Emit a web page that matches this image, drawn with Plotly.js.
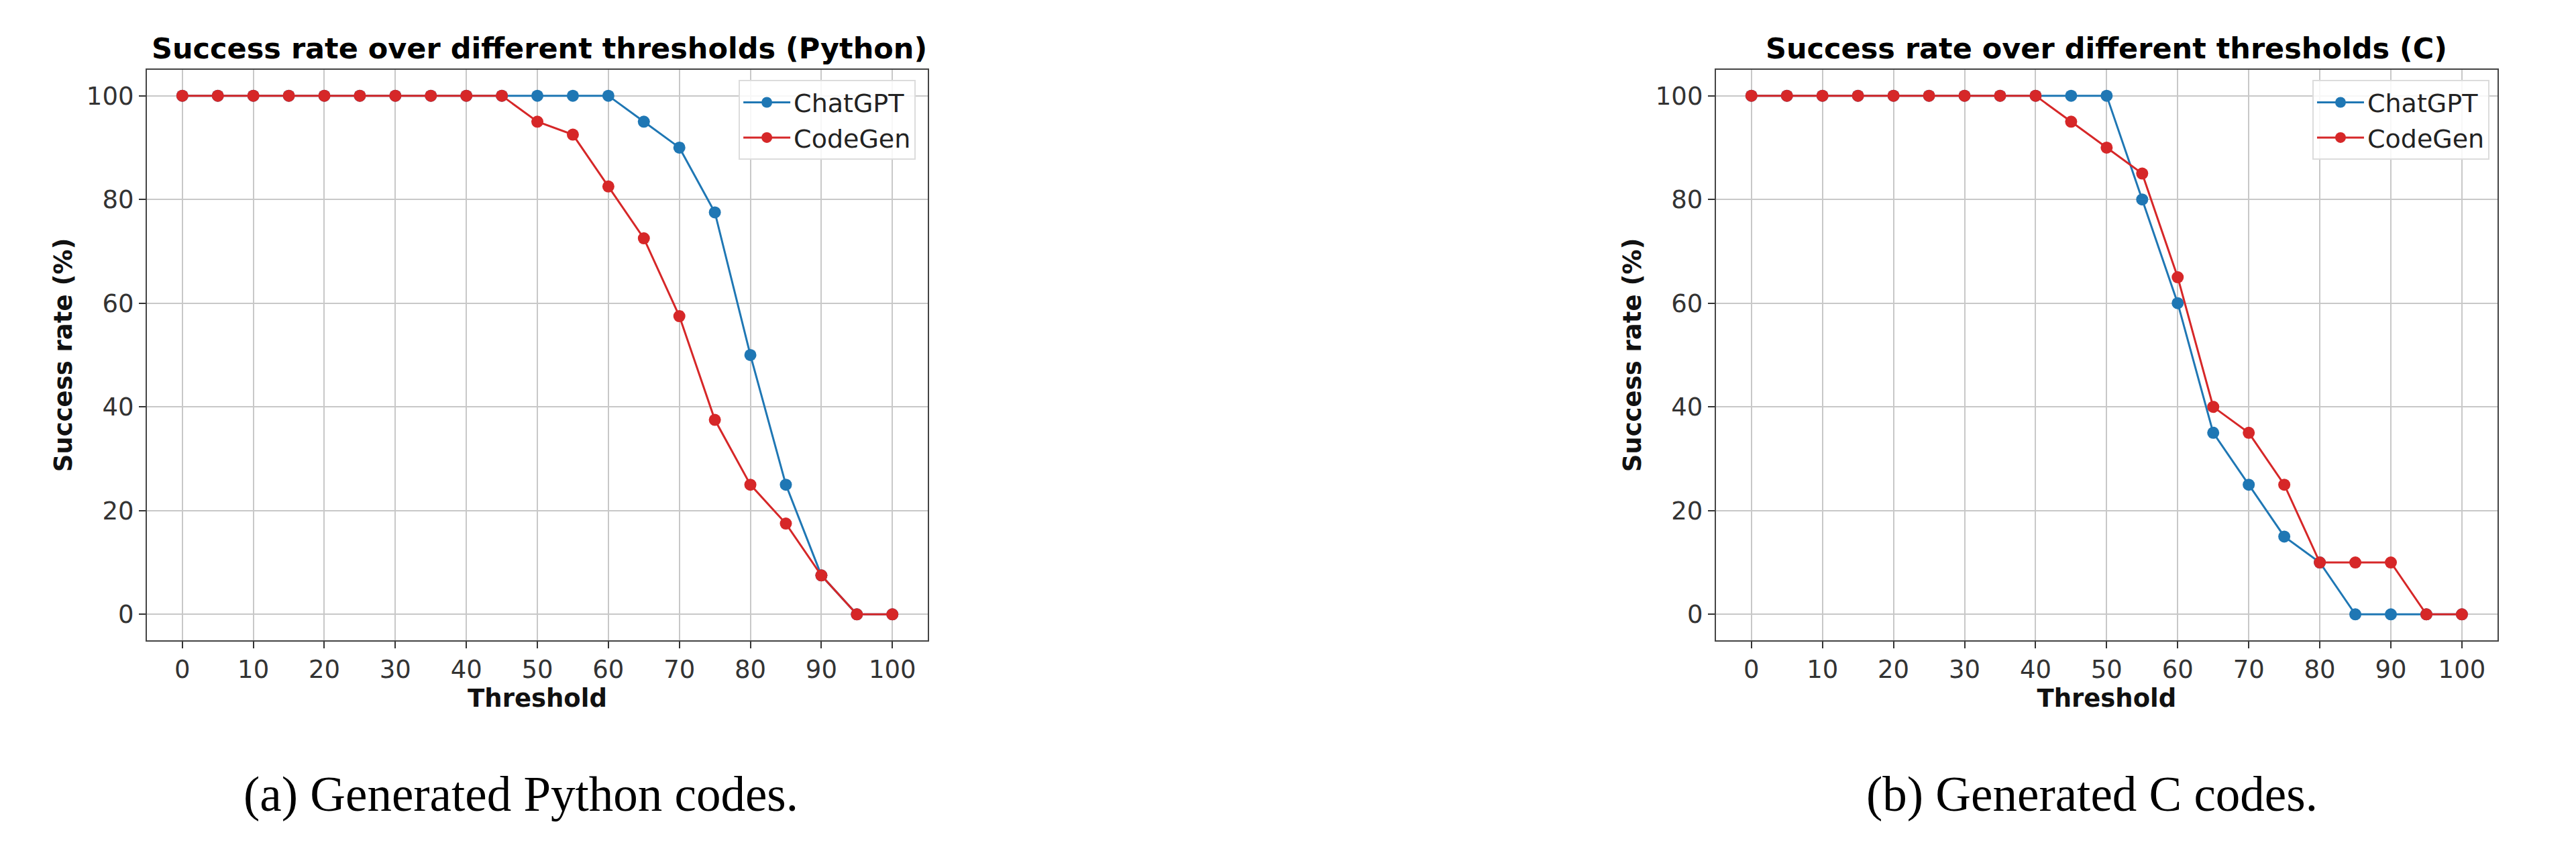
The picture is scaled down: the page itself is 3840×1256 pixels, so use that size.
<!DOCTYPE html>
<html>
<head>
<meta charset="utf-8">
<script src="https://cdn.plot.ly/plotly-3.0.1.min.js"></script>
<style>
  html, body { margin: 0; padding: 0; background: #fff; }
</style>
</head>
<body>
<div id="myDiv" style="width:3840px;height:1256px;"></div>
<script>
graphDiv = 'myDiv'

// thresholds on the x axis, shared by both panels
var thresholds = [0, 5, 10, 15, 20, 25, 30, 35, 40, 45, 50, 55, 60, 65, 70, 75, 80, 85, 90, 95, 100]
var xTicks = [0, 10, 20, 30, 40, 50, 60, 70, 80, 90, 100]
var yTicks = [0, 20, 40, 60, 80, 100]

// (a) Python
var pyChatGPT = [100, 100, 100, 100, 100, 100, 100, 100, 100, 100, 100, 100, 100, 95, 90, 77.5, 50, 25, 7.5, 0, 0]
var pyCodeGen = [100, 100, 100, 100, 100, 100, 100, 100, 100, 100, 95, 92.5, 82.5, 72.5, 57.5, 37.5, 25, 17.5, 7.5, 0, 0]

// (b) C
var cChatGPT = [100, 100, 100, 100, 100, 100, 100, 100, 100, 100, 100, 80, 60, 35, 25, 15, 10, 0, 0, 0, 0]
var cCodeGen = [100, 100, 100, 100, 100, 100, 100, 100, 100, 95, 90, 85, 65, 40, 35, 25, 10, 10, 10, 0, 0]

var seriesNames = ['ChatGPT', 'CodeGen']
var panelTitles = ['Success rate over different thresholds (Python)', 'Success rate over different thresholds (C)']
var captions = ['(a) Generated Python codes.', '(b) Generated C codes.']

var blue = '#1f77b4'
var red = '#d62728'
var font = 'DejaVu Sans'

function series(y, name, color, xa, ya, legend) {
  return {
    x: thresholds,
    y: y,
    name: name,
    type: 'scatter',
    mode: 'lines+markers',
    xaxis: xa,
    yaxis: ya,
    legend: legend,
    line: { color: color, width: 3 },
    marker: { color: color, size: 18 }
  }
}

var data = [
  series(pyChatGPT, seriesNames[0], blue, 'x', 'y', 'legend'),
  series(pyCodeGen, seriesNames[1], red, 'x', 'y', 'legend'),
  series(cChatGPT, seriesNames[0], blue, 'x2', 'y2', 'legend2'),
  series(cCodeGen, seriesNames[1], red, 'x2', 'y2', 'legend2')
]

function xAxis(domain, anchor) {
  return {
    domain: domain,
    anchor: anchor,
    range: [-5, 105],
    tickvals: xTicks,
    ticks: 'outside',
    ticklen: 10,
    tickwidth: 2,
    tickcolor: '#333',
    tickfont: { family: font, size: 37, color: '#333' },
    showgrid: true,
    gridcolor: '#c8c8c8',
    gridwidth: 2,
    zeroline: false,
    showline: true,
    mirror: true,
    linecolor: '#444',
    linewidth: 2,
    title: { text: 'Threshold', standoff: 4, font: { family: font, size: 37, weight: 'bold', color: '#111' } }
  }
}

function yAxis(domain, anchor) {
  return {
    domain: domain,
    anchor: anchor,
    range: [-5, 105],
    tickvals: yTicks,
    ticks: 'outside',
    ticklen: 10,
    tickwidth: 2,
    tickcolor: '#333',
    tickfont: { family: font, size: 37, color: '#333' },
    showgrid: true,
    gridcolor: '#c8c8c8',
    gridwidth: 2,
    zeroline: false,
    showline: true,
    mirror: true,
    linecolor: '#444',
    linewidth: 2,
    title: { text: 'Success rate (%)', standoff: 10, font: { family: font, size: 37, weight: 'bold', color: '#111' } }
  }
}

function legendBox(xRight) {
  return {
    x: xRight,
    xanchor: 'right',
    y: 0.905,
    yanchor: 'top',
    bgcolor: 'rgba(255,255,255,0.85)',
    bordercolor: '#dcdcdc',
    borderwidth: 2,
    itemwidth: 70,
    font: { family: font, size: 38, color: '#222' }
  }
}

var yDomain = [0.2405, 0.9172]

var layout = {
  width: 3840,
  height: 1256,
  margin: { l: 0, r: 0, t: 0, b: 0 },
  paper_bgcolor: '#fff',
  plot_bgcolor: '#fff',
  showlegend: true,
  xaxis: xAxis([0.0570, 0.3602], 'y'),
  yaxis: yAxis(yDomain, 'x'),
  xaxis2: xAxis([0.6661, 0.9695], 'y2'),
  yaxis2: yAxis(yDomain, 'x2'),
  legend: legendBox(0.3555),
  legend2: legendBox(0.9664),
  annotations: [
    { text: panelTitles[0], x: 0.2095, y: 0.9427, xref: 'paper', yref: 'paper', showarrow: false,
      xanchor: 'center', yanchor: 'middle', font: { family: font, size: 43, weight: 'bold', color: '#000' } },
    { text: panelTitles[1], x: 0.8178, y: 0.9427, xref: 'paper', yref: 'paper', showarrow: false,
      xanchor: 'center', yanchor: 'middle', font: { family: font, size: 43, weight: 'bold', color: '#000' } },
    { text: captions[0], x: 0.2021, y: 0.0581, xref: 'paper', yref: 'paper', showarrow: false,
      xanchor: 'center', yanchor: 'middle', font: { family: 'Liberation Serif', size: 73, color: '#000' } },
    { text: captions[1], x: 0.8122, y: 0.0581, xref: 'paper', yref: 'paper', showarrow: false,
      xanchor: 'center', yanchor: 'middle', font: { family: 'Liberation Serif', size: 73, color: '#000' } }
  ]
}

Plotly.newPlot(graphDiv, data, layout, { staticPlot: true })
</script>
</body>
</html>
